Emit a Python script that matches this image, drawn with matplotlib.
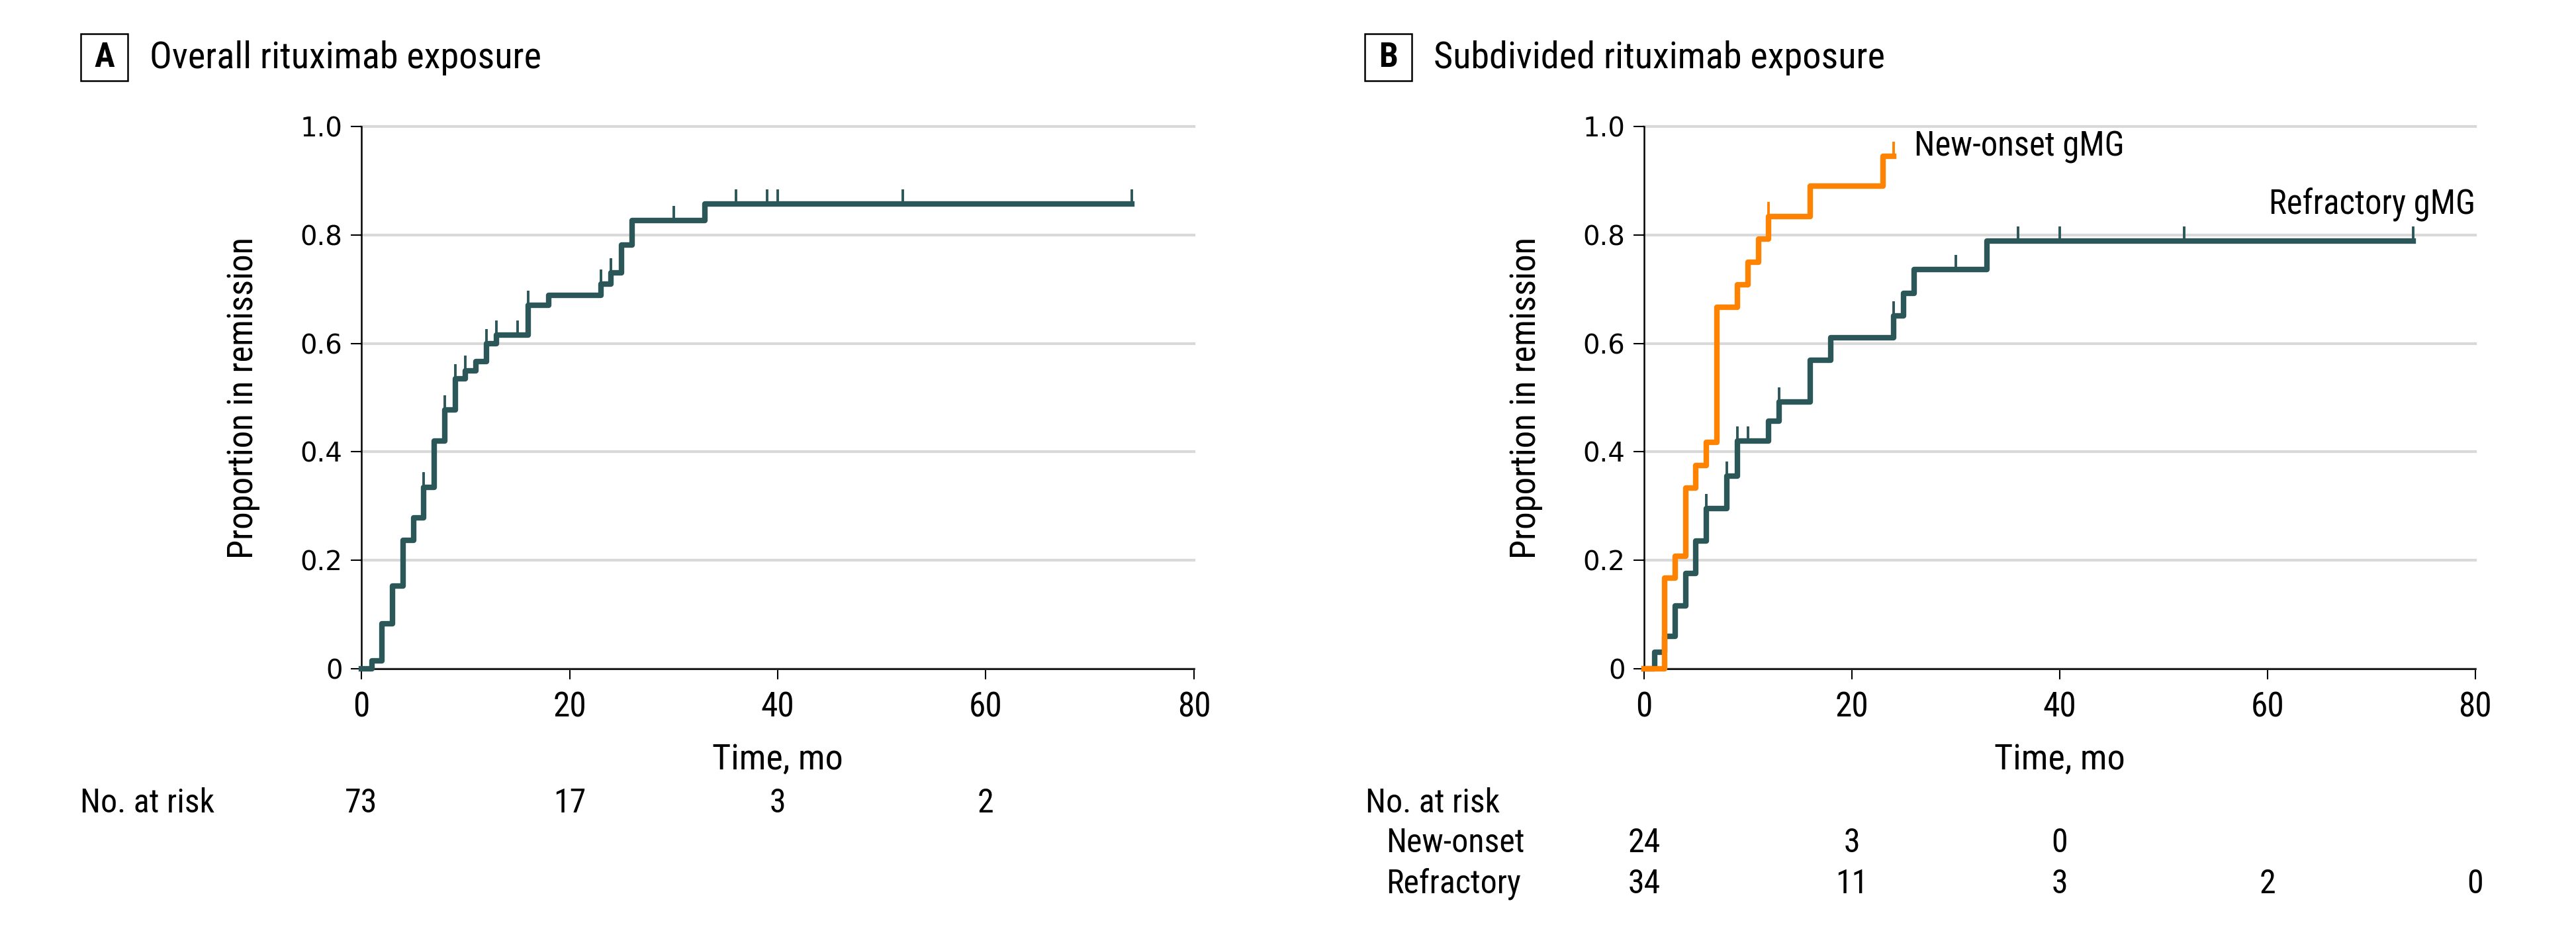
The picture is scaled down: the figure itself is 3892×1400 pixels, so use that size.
import numpy as np
import matplotlib.pyplot as plt
from matplotlib.patches import Rectangle
from matplotlib.transforms import blended_transform_factory

# A: overall rituximab exposure (step times, proportion after step, censor times)
time_a = [0, 1, 2, 3, 4, 5, 6, 7, 8, 9, 10, 11, 12, 13, 16, 18, 23, 24, 25, 26, 33, 74]
prop_a = [0, 0.014, 0.083, 0.153, 0.237, 0.278, 0.335, 0.420, 0.477, 0.535, 0.550,
          0.566, 0.599, 0.615, 0.670, 0.689, 0.709, 0.730, 0.781, 0.827, 0.857, 0.857]
cens_a = [6, 8, 9, 10, 12, 13, 15, 16, 23, 24, 30, 36, 39, 40, 52, 74]

# B: new-onset gMG
time_new = [0, 2, 3, 4, 5, 6, 7, 9, 10, 11, 12, 16, 23, 24]
prop_new = [0, 0.167, 0.208, 0.333, 0.375, 0.417, 0.667, 0.708, 0.750, 0.792,
            0.834, 0.890, 0.945, 0.945]
cens_new = [12, 24]

# B: refractory gMG
time_ref = [0, 1, 2, 3, 4, 5, 6, 8, 9, 12, 13, 16, 18, 24, 25, 26, 33, 74]
prop_ref = [0, 0.031, 0.060, 0.116, 0.176, 0.236, 0.295, 0.355, 0.420, 0.457,
            0.492, 0.569, 0.610, 0.651, 0.692, 0.736, 0.789, 0.789]
cens_ref = [6, 8, 9, 10, 13, 24, 30, 36, 40, 52, 74]

# numbers at risk
risk_t_all = [0, 20, 40, 60]
risk_all = [73, 17, 3, 2]
risk_t_new = [0, 20, 40]
risk_new = [24, 3, 0]
risk_t_ref = [0, 20, 40, 60, 80]
risk_ref = [34, 11, 3, 2, 0]

yticks = [0, 0.2, 0.4, 0.6, 0.8, 1.0]
ytick_lab = ['0', '0.2', '0.4', '0.6', '0.8', '1.0']
xticks = [0, 20, 40, 60, 80]

teal = '#2c5759'
orange = '#ff8200'
cond = ['Roboto Condensed', 'Roboto', 'DejaVu Sans']

fig = plt.figure(figsize=(38.92, 14), dpi=100)
axA = fig.add_axes([0.1403, 0.2786, 0.3232, 0.585])
axB = fig.add_axes([0.6382, 0.2786, 0.3227, 0.585])


def km(ax, t, p, c, col):
    ax.step(t, p, where='post', color=col, lw=6, clip_on=False, zorder=3)
    idx = np.searchsorted(t, c, side='right') - 1
    lv = np.array(p)[idx]
    ax.vlines(c, lv, lv + 0.027, color=col, lw=2.8, zorder=3)


km(axA, time_a, prop_a, cens_a, teal)
km(axB, time_ref, prop_ref, cens_ref, teal)
km(axB, time_new, prop_new, cens_new, orange)

axB.text(26, 0.962, 'New-onset gMG', family=cond, fontsize=36.5, va='center', ha='left')
axB.text(80, 0.855, 'Refractory gMG', family=cond, fontsize=36.5, va='center', ha='right')

for ax in (axA, axB):
    ax.set_xlim(0, 80)
    ax.set_ylim(0, 1)
    ax.spines['top'].set_visible(False)
    ax.spines['right'].set_visible(False)
    ax.spines['left'].set_linewidth(1.8)
    ax.spines['bottom'].set_linewidth(1.8)
    ax.set_yticks(yticks)
    ax.set_yticklabels(ytick_lab, family='DejaVu Sans', fontsize=29)
    ax.set_xticks(xticks)
    ax.set_xticklabels([str(v) for v in xticks], family=cond, fontsize=37)
    ax.tick_params(axis='both', direction='out', length=11.5, width=1.5)
    ax.tick_params(axis='y', pad=9)
    ax.tick_params(axis='x', pad=13)
    ax.yaxis.grid(True, color='#d9d9d9', lw=3)
    for g in ax.get_ygridlines():
        g.set_clip_on(False)
    ax.set_axisbelow(True)
    ax.set_ylabel('Proportion in remission', family=cond, fontsize=38)
    ax.yaxis.set_label_coords(-0.122, 0.5)
    ax.set_xlabel('Time, mo', family=cond, fontsize=39, va='center')
    ax.xaxis.set_label_coords(0.5, -0.167)

# panel headers
for x0, letter, title in [(122, 'A', 'Overall rituximab exposure'),
                          (2062, 'B', 'Subdivided rituximab exposure')]:
    fig.add_artist(Rectangle((x0 / 3892, 1 - 122 / 1400), 71 / 3892, 71 / 1400,
                             transform=fig.transFigure, fill=False, lw=1.8, ec='black'))
    fig.text((x0 + 35.5) / 3892, 1 - 87 / 1400, letter, family=cond, fontsize=37,
             fontweight='bold', ha='center', va='center')
    fig.text((x0 + 104) / 3892, 1 - 87 / 1400, title, family=cond, fontsize=40.5,
             ha='left', va='center')

# no. at risk tables
trA = blended_transform_factory(axA.transData, fig.transFigure)
trB = blended_transform_factory(axB.transData, fig.transFigure)
fs_risk = 36

fig.text(121 / 3892, 1 - 1213 / 1400, 'No. at risk', family=cond, fontsize=fs_risk, va='center')
for t, n in zip(risk_t_all, risk_all):
    fig.text(t, 1 - 1213 / 1400, str(n), transform=trA, family=cond, fontsize=fs_risk,
             ha='center', va='center')

fig.text(2063 / 3892, 1 - 1213 / 1400, 'No. at risk', family=cond, fontsize=fs_risk, va='center')
fig.text(2094 / 3892, 1 - 1273 / 1400, 'New-onset', family=cond, fontsize=fs_risk, va='center')
fig.text(2094 / 3892, 1 - 1335 / 1400, 'Refractory', family=cond, fontsize=fs_risk, va='center')
for t, n in zip(risk_t_new, risk_new):
    fig.text(t, 1 - 1273 / 1400, str(n), transform=trB, family=cond, fontsize=fs_risk,
             ha='center', va='center')
for t, n in zip(risk_t_ref, risk_ref):
    fig.text(t, 1 - 1335 / 1400, str(n), transform=trB, family=cond, fontsize=fs_risk,
             ha='center', va='center')

fig.savefig('out.png', dpi=100, facecolor='white')
